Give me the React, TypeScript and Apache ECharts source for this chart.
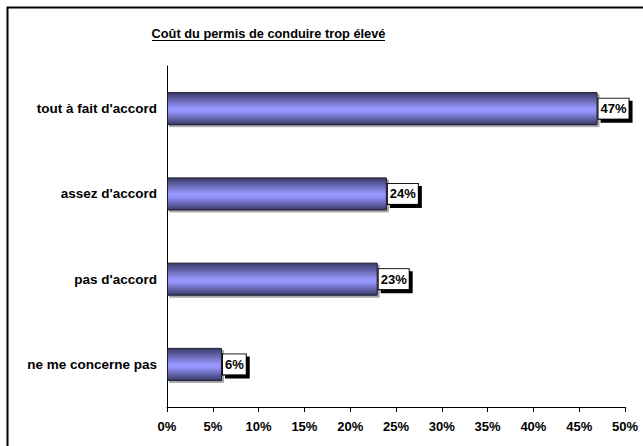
import React, { useEffect, useRef } from "react";
import * as echarts from "echarts";

const categories = ["tout à fait d'accord", "assez d'accord", "pas d'accord", "ne me concerne pas"];
const values = [47, 24, 23, 6];
const tickMax = 50;
const tickStep = 5;
const chartTitle = "Coût du permis de conduire trop élevé";

const FONT = "'Liberation Sans', Arial, sans-serif";

export default function App() {
  const ref = useRef<HTMLDivElement>(null);

  useEffect(() => {
    if (!ref.current) return;
    const chart = echarts.init(ref.current, undefined, { renderer: "svg" });
    const barFill = new echarts.graphic.LinearGradient(0, 0, 0, 1, [
      { offset: 0, color: "#3a3a68" },
      { offset: 0.5, color: "#9898ff" },
      { offset: 0.6, color: "#9494fa" },
      { offset: 1, color: "#3a3a68" },
    ]);
    chart.setOption({
      animation: false,
      backgroundColor: "#ffffff",
      grid: { left: 167, right: 18, top: 66, bottom: 39 },
      graphic: [
        {
          type: "rect",
          shape: { x: 7.5, y: 7.5, width: 720, height: 520 },
          style: { fill: "none", stroke: "#000", lineWidth: 2 },
          silent: true,
        },
        {
          type: "text",
          x: 268.5,
          y: 33,
          style: {
            text: chartTitle,
            font: `bold 12.8px ${FONT}`,
            fill: "#000",
            align: "center",
            verticalAlign: "middle",
          },
        },
        {
          type: "line",
          shape: { x1: 152, y1: 40.5, x2: 385, y2: 40.5 },
          style: { stroke: "#000", lineWidth: 1 },
        },
      ],
      xAxis: {
        type: "value",
        min: 0,
        max: tickMax,
        interval: tickStep,
        splitLine: { show: false },
        axisLine: { show: true, lineStyle: { color: "#000", width: 1 } },
        axisTick: { show: true, length: 5, lineStyle: { color: "#000" } },
        axisLabel: {
          formatter: "{value}%",
          color: "#000",
          fontFamily: FONT,
          fontWeight: "bold",
          fontSize: 13,
          margin: 13,
        },
      },
      yAxis: {
        type: "category",
        data: categories,
        inverse: true,
        axisLine: { show: true, lineStyle: { color: "#000", width: 1 } },
        axisTick: { show: false },
        axisLabel: {
          color: "#000",
          fontFamily: FONT,
          fontWeight: "bold",
          fontSize: 13.5,
          margin: 10,
        },
      },
      series: [
        {
          type: "bar",
          data: values,
          barWidth: 33,
          itemStyle: {
            color: barFill,
            borderColor: "#1a1a30",
            borderWidth: 1,
            shadowColor: "rgba(0,0,0,0.35)",
            shadowOffsetX: 2,
            shadowOffsetY: 2,
            shadowBlur: 0,
          },
          label: {
            show: true,
            position: "right",
            distance: 1,
            formatter: (p: any) => `${p.value}%`,
            color: "#000",
            fontFamily: FONT,
            fontWeight: "bold",
            fontSize: 13,
            backgroundColor: "#fff",
            borderColor: "#000",
            borderWidth: 1,
            padding: [4, 2, 3, 2],
            shadowColor: "#000",
            shadowOffsetX: 3,
            shadowOffsetY: 3,
            shadowBlur: 0,
          },
        },
      ],
    });
    return () => chart.dispose();
  }, []);

  return (
    <div
      ref={ref}
      style={{ position: "fixed", left: 0, top: 0, width: 643, height: 446 }}
    />
  );
}
